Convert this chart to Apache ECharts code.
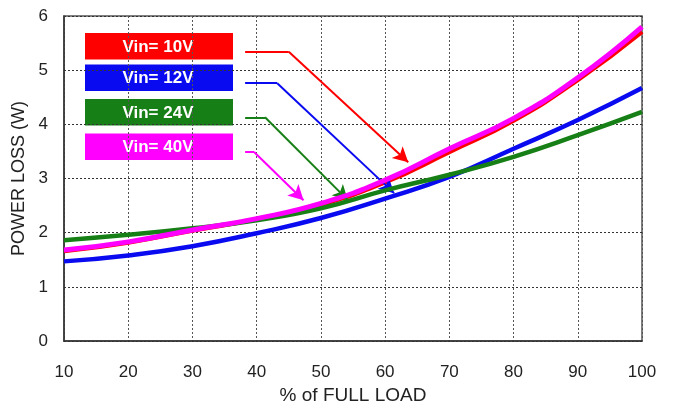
<!DOCTYPE html>
<html><head><meta charset="utf-8">
<script src="https://cdn.jsdelivr.net/npm/echarts@6/dist/echarts.min.js"></script>
<style>html,body{margin:0;padding:0;background:#fff}#c{width:675px;height:406px}</style>
</head><body><div id="c"></div>
<script>
const load = [10,20,30,40,50,60,70,80,90,100];
const xTicks = [10,20,30,40,50,60,70,80,90,100];
const yTicks = [0,1,2,3,4,5,6];
const names = ['Vin= 10V','Vin= 12V','Vin= 24V','Vin= 40V'];
const vin10 = [1.66,1.82,2.04,2.25,2.52,2.93,3.49,4.07,4.82,5.71];
const vin12 = [1.47,1.58,1.75,1.99,2.27,2.63,3.03,3.55,4.08,4.67];
const vin24 = [1.86,1.96,2.08,2.23,2.45,2.78,3.07,3.40,3.80,4.23];
const vin40 = [1.68,1.83,2.05,2.26,2.54,2.97,3.55,4.11,4.86,5.80];
// annotation arrows in data coordinates: start, bend, tip
const arrow10 = [[38.2,5.34],[45.0,5.34],[63.6,3.30]];
const arrow12 = [[38.2,4.76],[43.2,4.76],[61.4,2.73]];
const arrow24 = [[38.2,4.13],[41.3,4.13],[54.2,2.60]];
const arrow40 = [[38.2,3.49],[39.6,3.49],[47.3,2.60]];

const colors = ['#ff0000','#0a0af0','#168016','#ff00ff'];
const seriesData = [vin10, vin12, vin24, vin40];
const arrows = [arrow10, arrow12, arrow24, arrow40];
const font = '"Liberation Sans", Arial, sans-serif';

function arrowMark(a, color){
  return {
    silent: true, animation: false,
    lineStyle: {color: color, width: 2, type: 'solid'},
    label: {show: false},
    data: [
      [{coord: a[0], symbol: 'none'}, {coord: a[1], symbol: 'none'}],
      [{coord: a[1], symbol: 'none'}, {coord: a[2], symbol: 'arrow', symbolSize: [12,15]}]
    ]
  };
}

const order = [0,1,2,3];
const series = order.map(i => ({
  name: names[i], type: 'line', smooth: true, showSymbol: false, animation: false,
  data: load.map((x,k) => [x, seriesData[i][k]]),
  lineStyle: {color: colors[i], width: i===3 ? 5 : 4.5},
  itemStyle: {color: colors[i]},
  z: 3 + i,
  markLine: arrowMark(arrows[i], colors[i])
}));

const boxTop = [33, 64.5, 99, 133.5];
const graphic = names.map((n,i) => ({
  type: 'group', left: 85, top: boxTop[i],
  children: [
    {type: 'rect', shape: {x:0, y:0, width:148, height:26.5}, style: {fill: colors[i]}},
    {type: 'text', x: 73, y: 14, style: {text: n, fill: '#fff', font: 'bold 17px ' + font, align: 'center', verticalAlign: 'middle'}}
  ]
}));

const chart = echarts.init(document.getElementById('c'), null, {renderer: 'canvas'});
chart.setOption({
  backgroundColor: '#fff',
  animation: false,
  grid: {left: 64, right: 33, top: 16, bottom: 65, show: true, borderColor: '#555', borderWidth: 1.5,
         containLabel: false, outerBoundsMode: 'none'},
  xAxis: {
    type: 'value', min: xTicks[0], max: xTicks[xTicks.length-1], interval: 10,
    name: '% of FULL LOAD', nameLocation: 'middle', nameGap: 44,
    nameTextStyle: {fontSize: 19, color: '#222', fontFamily: font},
    axisLine: {show: true, lineStyle: {color: '#333', width: 1.5}},
    axisTick: {show: false},
    axisLabel: {fontSize: 17, color: '#222', fontFamily: font, margin: 23},
    splitLine: {show: true, lineStyle: {color: '#555', type: [2,2], width: 1}}
  },
  yAxis: {
    type: 'value', min: yTicks[0], max: yTicks[yTicks.length-1], interval: 1,
    name: 'POWER LOSS (W)', nameLocation: 'middle', nameGap: 33,
    nameTextStyle: {fontSize: 18, color: '#222', fontFamily: font},
    axisLine: {show: true, lineStyle: {color: '#333', width: 1.5}},
    axisTick: {show: false},
    axisLabel: {fontSize: 17, color: '#222', fontFamily: font, margin: 16},
    splitLine: {show: true, lineStyle: {color: '#333', type: [2,2], width: 1}}
  },
  graphic: graphic,
  series: series
});
</script>
</body></html>
